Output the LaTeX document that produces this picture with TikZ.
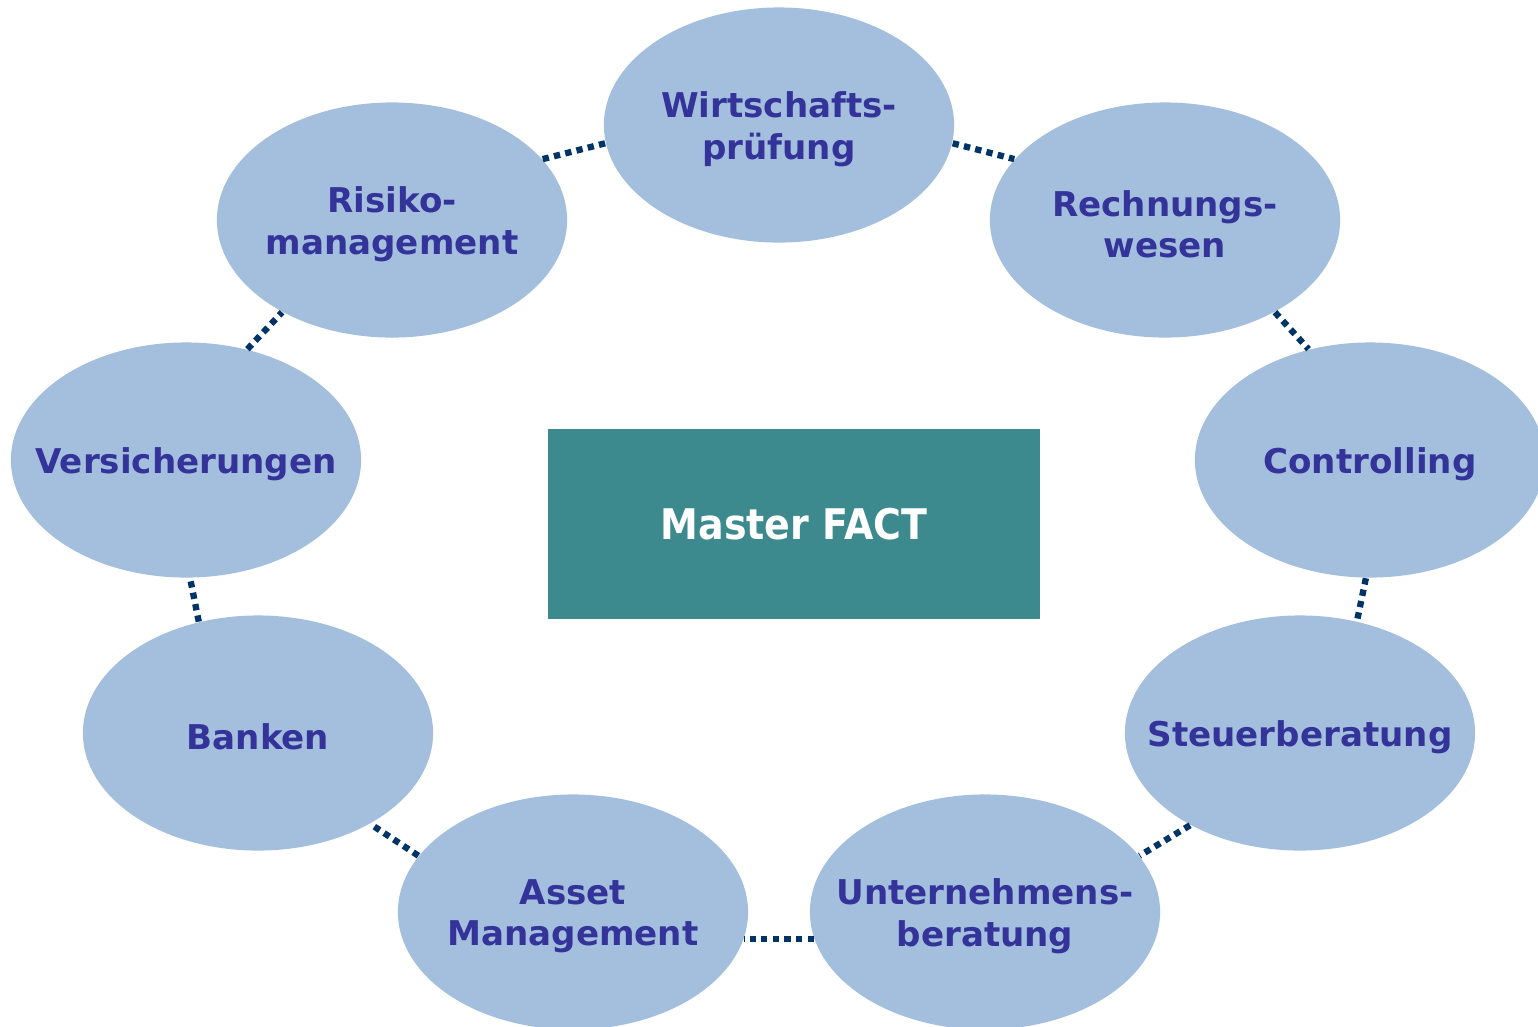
\documentclass[tikz,border=0pt]{standalone}
\usepackage{fontspec}
\setmainfont{DejaVu Sans}
\newfontfamily\masterfont[FakeStretch=0.9]{DejaVu Sans}
\usetikzlibrary{shapes.geometric}

\definecolor{fieldblue}{HTML}{A3BFDD}
\definecolor{fieldtext}{HTML}{333399}
\definecolor{masterteal}{HTML}{3D8A8E}
\definecolor{linknavy}{HTML}{003366}

\tikzset{
  field/.style={ellipse, fill=fieldblue, minimum width=3.5cm, minimum height=2.35cm, inner sep=0pt},
  fieldlabel/.style={align=center, text=fieldtext, yshift=-1.2pt, font=\bfseries\fontsize{9.7}{11.7}\selectfont},
  master/.style={rectangle, fill=masterteal, minimum width=4.92cm, minimum height=1.89cm, text=white, font=\masterfont\bfseries\fontsize{12}{14}\selectfont},
  link/.style={draw=linknavy, line width=1.8pt, dash pattern=on 1.8pt off 1.5pt}
}

\begin{document}
\begin{tikzpicture}[x=0.01cm, y=-0.01cm]
   \useasboundingbox (0,0) rectangle (1538,1026);
   % center box
   \node[master] (fact) at (794,524) {Master FACT};
   % ring of fields
   \node[field, label={[fieldlabel]center:{Wirtschafts-\\prüfung}}] (wirt) at (779,125) {};
   \node[field, label={[fieldlabel]center:{Rechnungs-\\wesen}}] (rech) at (1165,220) {};
   \node[field, label={[fieldlabel]center:{Controlling}}] (ctrl) at (1370,460) {};
   \node[field, label={[fieldlabel]center:{Steuerberatung}}] (steu) at (1300,733) {};
   \node[field, label={[fieldlabel]center:{Unternehmens-\\beratung}}] (unt) at (985,912) {};
   \node[field, label={[fieldlabel]center:{Asset\\Management}}] (asset) at (573,912) {};
   \node[field, label={[fieldlabel]center:{Banken}}] (bank) at (258,733) {};
   \node[field, label={[fieldlabel]center:{Versicherungen}}] (vers) at (186,460) {};
   \node[field, label={[fieldlabel]center:{Risiko-\\management}}] (risk) at (392,220) {};
   % dotted links
   \draw[link] (risk.22) -- (wirt.186);
   \draw[link] (wirt.354) -- (rech.158);
   \draw[link] (rech.320) -- (ctrl.119);
   \draw[link] (ctrl.268) -- (steu.63);
   \draw[link] (steu.220) -- (unt.20);
   \draw[link] (unt.189) -- (asset.351);
   \draw[link] (asset.160) -- (bank.321);
   \draw[link] (bank.118) -- (vers.272);
   \draw[link] (vers.61) -- (risk.220);
\end{tikzpicture}
\end{document}
